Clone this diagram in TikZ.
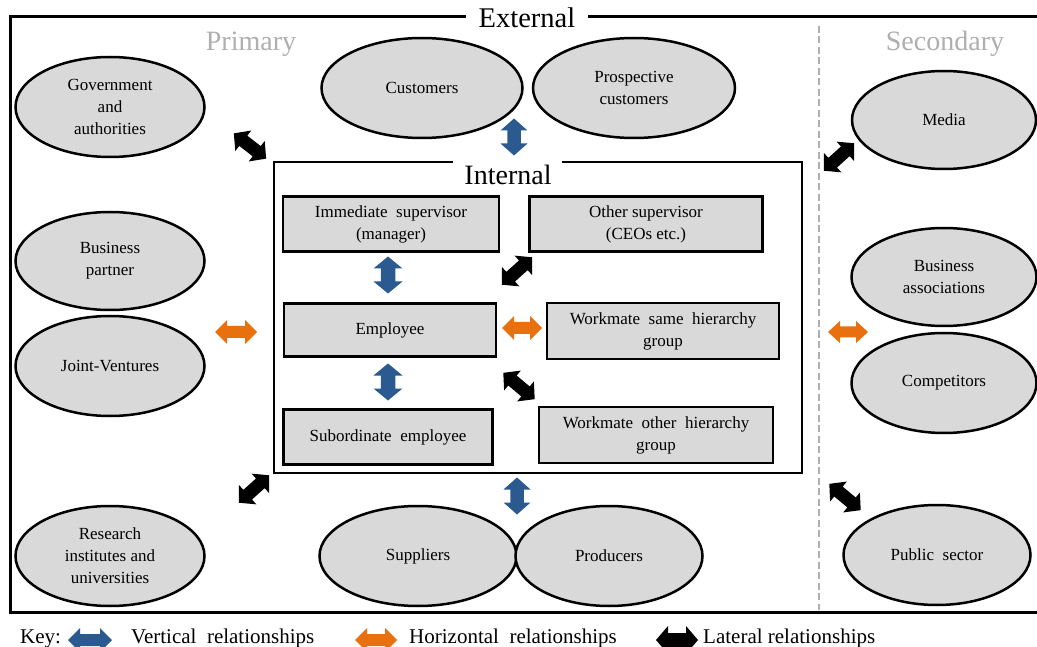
\documentclass[tikz,border=0pt]{standalone}
\usepackage{fontspec}
\setmainfont{Liberation Serif}
\usetikzlibrary{shapes.geometric}
\definecolor{boxgray}{HTML}{D9D9D9}
\definecolor{labelgray}{HTML}{AFAFAF}
\definecolor{vertblue}{HTML}{2B5A90}
\definecolor{horzorange}{HTML}{E8700F}
\definecolor{latblack}{HTML}{000000}

% block double arrow: centre, angle, half length, half head width, colour
\newcommand{\dblarrow}[5]{%
  \fill[#5,shift={#1},rotate=#2]
    (-#3,0) -- ({-#3+12},#4) -- ({-#3+12},{#4/2}) -- ({#3-12},{#4/2})
    -- ({#3-12},#4) -- (#3,0) -- ({#3-12},-#4) -- ({#3-12},{-#4/2})
    -- ({-#3+12},{-#4/2}) -- ({-#3+12},-#4) -- cycle;}

\tikzset{
  party/.style={ellipse, draw, line width=2.5pt, fill=boxgray, align=center,
    inner sep=0pt, font=\fontsize{17}{22}\selectfont},
  role/.style={rectangle, draw, line width=2.8pt, fill=boxgray, align=center,
    inner sep=0pt, font=\fontsize{17}{22}\selectfont},
  biglabel/.style={font=\fontsize{28}{30}\selectfont, inner sep=0pt},
  keytext/.style={font=\fontsize{21}{24}\selectfont, inner sep=0pt, anchor=base west},
}

\begin{document}
\begin{tikzpicture}[x=1pt,y=-1pt]
\useasboundingbox[fill=white] (0,0) rectangle (1037,647);

% outer frame (External)
\draw[line width=3pt] (466,17) -- (10,17) -- (10,612) -- (1045,612);
\draw[line width=3pt] (588,17) -- (1045,17);
\node[biglabel, font=\fontsize{28.5}{30}\selectfont] (ext) at (527,18) {External};

% primary / secondary divider
\draw[labelgray, line width=2.5pt, dash pattern=on 7pt off 3.5pt] (819,26) -- (819,610);
\node[biglabel, text=labelgray] (prim) at (251,44) {Primary};
\node[biglabel, text=labelgray] (sec) at (945,44) {Secondary};

% inner frame (Internal)
\draw[line width=2.5pt] (453,162) -- (274,162) -- (274,473) -- (802,473) -- (802,162) -- (562,162);
\node[biglabel] (int) at (508,175) {Internal};

% primary external parties
\node[party, minimum width=189pt, minimum height=100pt] (gov) at (110,107) {Government\\and\\authorities};
\node[party, minimum width=201pt, minimum height=100pt] (cust) at (422,88) {Customers};
\node[party, minimum width=202pt, minimum height=100pt] (pros) at (634,88) {Prospective\\customers};
\node[party, minimum width=189pt, minimum height=98pt] (bp) at (110,261) {Business\\partner};
\node[party, minimum width=189pt, minimum height=100pt] (jv) at (110,366) {Joint-Ventures};
\node[party, minimum width=189pt, minimum height=100pt] (res) at (110,556) {Research\\institutes and\\universities};
\node[party, minimum width=197pt, minimum height=100pt] (sup) at (418,556) {Suppliers};
\node[party, minimum width=187pt, minimum height=100pt] (prod) at (609,556) {Producers};

% secondary external parties
\node[party, minimum width=184pt, minimum height=98pt] (media) at (944,120) {Media};
\node[party, minimum width=185pt, minimum height=98pt] (bassoc) at (944,277) {Business\\associations};
\node[party, minimum width=185pt, minimum height=100pt] (comp) at (944,383) {Competitors};
\node[party, minimum width=187pt, minimum height=100pt] (pub) at (937,555) {Public\ \ sector};

% internal roles
\node[role, minimum width=216pt, minimum height=55pt] (imm) at (391,224) {Immediate\ \ supervisor\\(manager)};
\node[role, minimum width=233pt, minimum height=55pt] (oth) at (646,224) {Other supervisor\\(CEOs etc.)};
\node[role, minimum width=212pt, minimum height=53pt] (emp) at (390,330) {Employee};
\node[role, minimum width=232pt, minimum height=56pt] (same) at (663,331) {Workmate\ \ same\ \ hierarchy\\group};
\node[role, minimum width=209pt, minimum height=55pt] (sub) at (388,437) {Subordinate\ \ employee};
\node[role, minimum width=234pt, minimum height=56pt] (othg) at (656,435) {Workmate\ \ other\ \ hierarchy\\group};

% vertical relationships
\dblarrow{(514,137)}{90}{18.5}{13.5}{vertblue}
\dblarrow{(388,275)}{90}{18.5}{14.5}{vertblue}
\dblarrow{(388,382)}{90}{18.5}{14.5}{vertblue}
\dblarrow{(517,496)}{90}{18.5}{13.5}{vertblue}

% horizontal relationships
\dblarrow{(236,332)}{0}{21}{12}{horzorange}
\dblarrow{(522,328)}{0}{20}{12}{horzorange}
\dblarrow{(848,332)}{0}{20}{11}{horzorange}

% lateral relationships
\dblarrow{(250,146)}{-38}{20.5}{13}{latblack}
\dblarrow{(517,271)}{42}{20.5}{13}{latblack}
\dblarrow{(519,386)}{-40}{20.5}{13}{latblack}
\dblarrow{(254,489)}{42}{20.5}{13}{latblack}
\dblarrow{(839,157)}{42}{20.5}{13}{latblack}
\dblarrow{(845,497)}{-40}{20.5}{13}{latblack}

% key
\node[keytext] (key) at (20,643) {Key:};
\dblarrow{(90,640)}{0}{22}{12}{vertblue}
\node[keytext] (kv) at (131,643) {Vertical\ \ relationships};
\dblarrow{(376,640)}{0}{21}{12}{horzorange}
\node[keytext] (kh) at (409,643) {Horizontal\ \ relationships};
\dblarrow{(677,640)}{0}{21}{14}{latblack}
\node[keytext] (kl) at (703,643) {Lateral relationships};
\end{tikzpicture}
\end{document}
